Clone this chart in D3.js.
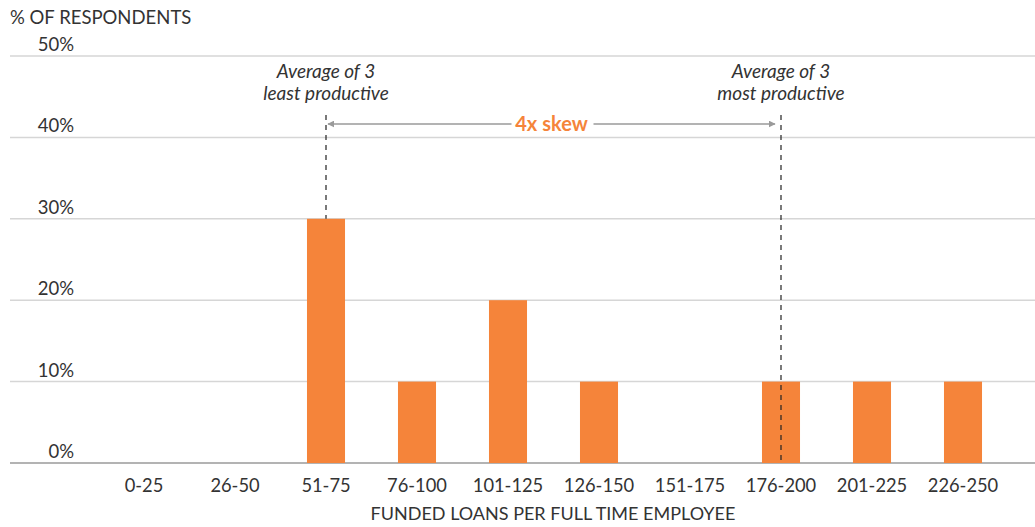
<!DOCTYPE html>
<html>
<head>
<meta charset="utf-8">
<script src="https://cdn.jsdelivr.net/npm/d3@7"></script>
<style>
  html, body { margin: 0; padding: 0; background: #fff; }
  svg { display: block; font-family: Lato, "Open Sans", sans-serif; }
</style>
</head>
<body>
<svg id="chart" width="1035" height="527"></svg>
<script>
// Loan productivity distribution
const categories = ["0-25", "26-50", "51-75", "76-100", "101-125", "126-150", "151-175", "176-200", "201-225", "226-250"];
const respondents = [0, 0, 30, 10, 20, 10, 0, 10, 10, 10];
const yTicks = [0, 10, 20, 30, 40, 50];
const markers = [
  { category: "51-75", lines: ["Average of 3", "least productive"], toBar: true },
  { category: "176-200", lines: ["Average of 3", "most productive"], toBar: false }
];
const skewLabel = "4x skew";

const orange = "#f5843a";
const svg = d3.select("#chart");

const x = d3.scaleBand()
  .domain(categories)
  .range([98.5, 1008.5])
  .paddingInner(0.582)
  .paddingOuter(0.291);

const y = d3.scaleLinear().domain([0, 50]).range([463, 56]);

// Gridlines
svg.append("g").selectAll("line")
  .data(yTicks)
  .join("line")
  .attr("x1", 10).attr("x2", 1035)
  .attr("y1", d => y(d)).attr("y2", d => y(d))
  .attr("stroke", d => d === 0 ? "#9a9a9a" : "#d6d6d6")
  .attr("stroke-width", 1.5);

// Y tick labels
svg.append("g").selectAll("text")
  .data(yTicks)
  .join("text")
  .attr("x", 74)
  .attr("y", d => y(d) - 5)
  .attr("text-anchor", "end")
  .attr("font-size", 18.5)
  .attr("fill", "#333")
  .text(d => d + "%");

svg.append("text")
  .attr("x", 10).attr("y", 24)
  .attr("font-size", 18.5)
  .attr("fill", "#333")
  .text("% OF RESPONDENTS");

// Bars
svg.append("g").selectAll("rect")
  .data(categories.map((c, i) => ({ c, v: respondents[i] })).filter(d => d.v > 0))
  .join("rect")
  .attr("x", d => x(d.c))
  .attr("width", x.bandwidth())
  .attr("y", d => y(d.v))
  .attr("height", d => y(0) - y(d.v))
  .attr("fill", orange);

// X axis labels
svg.append("g").selectAll("text")
  .data(categories)
  .join("text")
  .attr("x", d => x(d) + x.bandwidth() / 2)
  .attr("y", 492)
  .attr("text-anchor", "middle")
  .attr("font-size", 18.3)
  .attr("fill", "#333")
  .text(d => d);

svg.append("text")
  .attr("x", 553).attr("y", 520)
  .attr("text-anchor", "middle")
  .attr("font-size", 18)
  .attr("fill", "#333")
  .text("FUNDED LOANS PER FULL TIME EMPLOYEE");

// Average markers
markers.forEach(m => {
  const cx = x(m.category) + x.bandwidth() / 2;
  const v = respondents[categories.indexOf(m.category)];
  svg.append("line")
    .attr("x1", cx).attr("x2", cx)
    .attr("y1", 115)
    .attr("y2", m.toBar ? y(v) : y(0))
    .attr("stroke", "#222")
    .attr("stroke-width", 1.2)
    .attr("stroke-dasharray", "5,5");
  m.lines.forEach((t, i) => {
    svg.append("text")
      .attr("x", cx).attr("y", 78 + i * 22)
      .attr("text-anchor", "middle")
      .attr("font-size", 19)
      .attr("font-style", "italic")
      .attr("fill", "#333")
      .text(t);
  });
});

// Skew arrow
const xa = x(markers[0].category) + x.bandwidth() / 2 + 2;
const xb = x(markers[1].category) + x.bandwidth() / 2 - 6;
const ay = 124;
const mid = (xa + xb) / 2;
const defs = svg.append("defs");
["start", "end"].forEach(k => {
  defs.append("marker")
    .attr("id", "arrow-" + k)
    .attr("viewBox", "0 0 10 10")
    .attr("refX", k === "end" ? 9 : 1).attr("refY", 5)
    .attr("markerWidth", 7).attr("markerHeight", 7)
    .attr("markerUnits", "userSpaceOnUse")
    .attr("orient", "auto")
    .append("path")
    .attr("d", k === "end" ? "M0,0 L10,5 L0,10 Z" : "M10,0 L0,5 L10,10 Z")
    .attr("fill", "#9a9a9a");
});
svg.append("line")
  .attr("x1", xa).attr("x2", mid - 40)
  .attr("y1", ay).attr("y2", ay)
  .attr("stroke", "#9a9a9a").attr("stroke-width", 1.5)
  .attr("marker-start", "url(#arrow-start)");
svg.append("line")
  .attr("x1", mid + 42).attr("x2", xb)
  .attr("y1", ay).attr("y2", ay)
  .attr("stroke", "#9a9a9a").attr("stroke-width", 1.5)
  .attr("marker-end", "url(#arrow-end)");
svg.append("text")
  .attr("x", mid).attr("y", ay + 7)
  .attr("text-anchor", "middle")
  .attr("font-size", 20)
  .attr("font-weight", "bold")
  .attr("fill", orange)
  .text(skewLabel);
</script>
</body>
</html>
